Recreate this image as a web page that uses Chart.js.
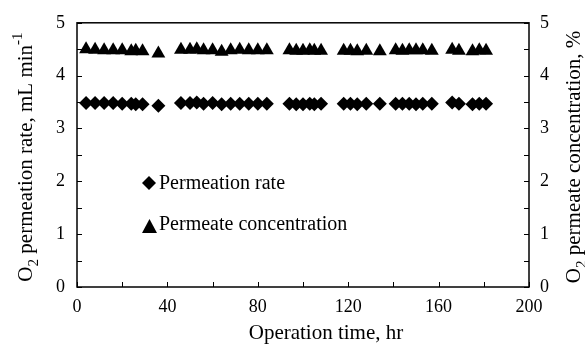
<!DOCTYPE html>
<html>
<head>
<meta charset="utf-8">
<script src="https://cdn.jsdelivr.net/npm/chart.js@4"></script>
<style>
  html, body { margin: 0; padding: 0; background: #fff; }
  #wrap { width: 585px; height: 345px; }
</style>
</head>
<body>
<div id="wrap"><canvas id="myChart" width="585" height="345"></canvas></div>
<script>
// Data
const hours = [4, 8, 12, 16, 20, 24, 26, 29, 36, 46, 50, 53, 56, 60, 64, 68, 72, 76, 80, 84,
               94, 97, 100, 103, 105, 108, 118, 121, 124, 128, 134, 141, 144, 147, 150, 153, 157,
               166, 169, 175, 178, 181];
const permeationRate = [3.48, 3.48, 3.48, 3.48, 3.47, 3.47, 3.46, 3.46, 3.43, 3.48, 3.48, 3.49, 3.47, 3.48, 3.46, 3.47, 3.47, 3.47, 3.47, 3.47,
                        3.47, 3.46, 3.46, 3.47, 3.46, 3.47, 3.47, 3.47, 3.46, 3.47, 3.47, 3.47, 3.47, 3.47, 3.46, 3.47, 3.47,
                        3.49, 3.47, 3.46, 3.47, 3.47];
const permeateConc = [4.50, 4.49, 4.48, 4.48, 4.48, 4.46, 4.47, 4.46, 4.42, 4.49, 4.49, 4.50, 4.48, 4.48, 4.45, 4.48, 4.49, 4.48, 4.48, 4.48,
                      4.48, 4.47, 4.47, 4.48, 4.47, 4.47, 4.47, 4.47, 4.46, 4.47, 4.46, 4.48, 4.47, 4.48, 4.48, 4.48, 4.47,
                      4.49, 4.47, 4.46, 4.48, 4.47];
const xTicks = [0, 40, 80, 120, 160, 200];
const yTicks = [0, 1, 2, 3, 4, 5];

const serif = "'Liberation Serif', 'Times New Roman', serif";

function toPoints(xs, ys) {
    return xs.map((x, i) => ({ x: x, y: ys[i] }));
}

// draw a list of [text, shift] pieces; shift: 0 normal, 1 superscript, -1 subscript
function richText(ctx, parts, x, y, size, angle) {
    ctx.save();
    ctx.translate(x, y);
    ctx.rotate(angle);
    let total = 0;
    parts.forEach(p => {
        ctx.font = (p[1] ? size * 0.72 : size) + 'px ' + serif;
        total += ctx.measureText(p[0]).width;
    });
    let cx = -total / 2;
    ctx.textBaseline = 'middle';
    ctx.textAlign = 'left';
    ctx.fillStyle = '#000';
    parts.forEach(p => {
        ctx.font = (p[1] ? size * 0.72 : size) + 'px ' + serif;
        ctx.fillText(p[0], cx, -p[1] * size * 0.38);
        cx += ctx.measureText(p[0]).width;
    });
    ctx.restore();
}

const framePlugin = {
    id: 'frame',
    afterDraw(chart) {
        const ctx = chart.ctx;
        const a = chart.chartArea;
        const xs = chart.scales.x, yl = chart.scales.y, yr = chart.scales.y2;
        ctx.save();
        ctx.strokeStyle = '#000';
        ctx.lineWidth = 1.5;
        ctx.strokeRect(a.left, a.top, a.right - a.left, a.bottom - a.top);
        ctx.lineWidth = 1;
        // inward ticks, majors and minors
        for (let v = 0; v <= 200; v += 20) {
            const px = Math.round(xs.getPixelForValue(v)) + 0.5;
            ctx.beginPath();
            ctx.moveTo(px, a.bottom);
            ctx.lineTo(px, a.bottom - 5);
            ctx.stroke();
        }
        for (let v = 0; v <= 5; v += 0.5) {
            const pl = Math.round(yl.getPixelForValue(v)) + 0.5;
            const pr = Math.round(yr.getPixelForValue(v)) + 0.5;
            ctx.beginPath();
            ctx.moveTo(a.left, pl);
            ctx.lineTo(a.left + 5, pl);
            ctx.moveTo(a.right, pr);
            ctx.lineTo(a.right - 5, pr);
            ctx.stroke();
        }
        // axis titles
        richText(ctx, [['O', 0], ['2', -1], [' permeation rate, mL min', 0], ['-1', 1]], 26, 157, 21, -Math.PI / 2);
        richText(ctx, [['O', 0], ['2', -1], [' permeate concentration, %', 0]], 574, 157, 21, -Math.PI / 2);
        richText(ctx, [['Operation time, hr', 0]], 326, 333, 21, 0);
        // legend inside the plot
        ctx.fillStyle = '#000';
        ctx.beginPath();
        ctx.moveTo(149, 176); ctx.lineTo(156, 183); ctx.lineTo(149, 190); ctx.lineTo(142, 183);
        ctx.closePath(); ctx.fill();
        ctx.beginPath();
        ctx.moveTo(149.5, 219); ctx.lineTo(157, 233); ctx.lineTo(142, 233);
        ctx.closePath(); ctx.fill();
        ctx.font = '20px ' + serif;
        ctx.textBaseline = 'middle';
        ctx.textAlign = 'left';
        ctx.fillText('Permeation rate', 159, 184);
        ctx.fillText('Permeate concentration', 159, 225);
        ctx.restore();
    }
};

const tickFont = { family: serif, size: 18 };

const ctx = document.getElementById('myChart').getContext('2d');
const myChart = new Chart(ctx, {
    type: 'scatter',
    data: {
        datasets: [{
            label: 'Permeation rate',
            data: toPoints(hours, permeationRate),
            yAxisID: 'y',
            pointStyle: 'rectRot',
            pointRadius: 7,
            backgroundColor: '#000',
            borderColor: '#000',
            borderWidth: 0
        }, {
            label: 'Permeate concentration',
            data: toPoints(hours, permeateConc),
            yAxisID: 'y2',
            pointStyle: 'triangle',
            pointRadius: 8,
            backgroundColor: '#000',
            borderColor: '#000',
            borderWidth: 0
        }]
    },
    options: {
        responsive: false,
        animation: false,
        layout: { padding: { top: 18, left: 0, right: 0, bottom: 0 } },
        plugins: {
            legend: { display: false },
            tooltip: { enabled: false }
        },
        scales: {
            x: {
                type: 'linear',
                min: 0, max: 200,
                afterBuildTicks: s => { s.ticks = xTicks.map(v => ({ value: v })); },
                afterFit: s => { s.height = 58; },
                grid: { display: false, drawTicks: false },
                border: { display: false },
                ticks: { color: '#000', font: tickFont, padding: 9, maxRotation: 0 }
            },
            y: {
                position: 'left',
                min: 0, max: 5,
                afterBuildTicks: s => { s.ticks = yTicks.map(v => ({ value: v })); },
                afterFit: s => { s.width = 77; },
                grid: { display: false, drawTicks: false },
                border: { display: false },
                ticks: { color: '#000', font: tickFont, padding: 12 }
            },
            y2: {
                position: 'right',
                min: 0, max: 5,
                afterBuildTicks: s => { s.ticks = yTicks.map(v => ({ value: v })); },
                afterFit: s => { s.width = 56; },
                grid: { display: false, drawTicks: false },
                border: { display: false },
                ticks: { color: '#000', font: tickFont, padding: 11 }
            }
        }
    },
    plugins: [framePlugin]
});
</script>
</body>
</html>
